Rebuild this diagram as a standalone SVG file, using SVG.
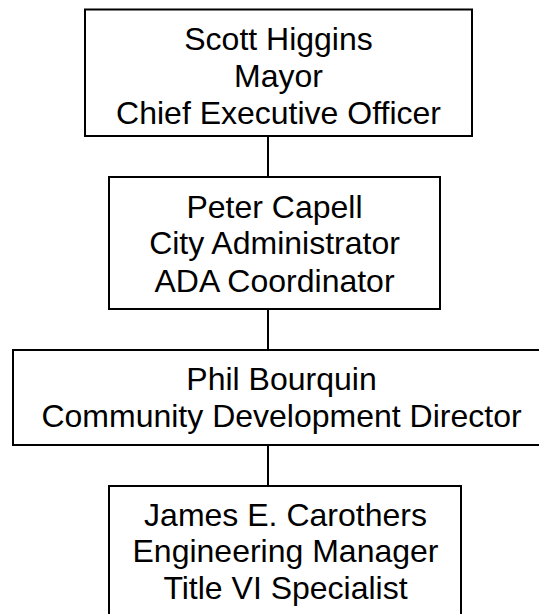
<svg xmlns="http://www.w3.org/2000/svg" width="539" height="614" viewBox="0 0 539 614">
<style>
.box{fill:#fff;stroke:#000;stroke-width:2}
.t{font-family:"Liberation Sans",Arial,sans-serif;font-size:32px;fill:#000;text-anchor:middle}
.c{stroke:#000;stroke-width:2;fill:none}
</style>
<rect width="539" height="614" fill="#fff"/>
<g id="connectors">
<line class="c" x1="268" y1="136" x2="268" y2="177"/>
<line class="c" x1="268" y1="309" x2="268" y2="350"/>
<line class="c" x1="268" y1="445" x2="268" y2="486"/>
</g>
<g id="node-higgins">
<rect class="box" x="85" y="9.5" width="387" height="126.5"/>
<text class="t" x="278.5" y="50">Scott Higgins</text>
<text class="t" x="278.5" y="87">Mayor</text>
<text class="t" x="278.5" y="123.5">Chief Executive Officer</text>
</g>
<g id="node-capell">
<rect class="box" x="109" y="177" width="331" height="132"/>
<text class="t" x="274.5" y="217.5">Peter Capell</text>
<text class="t" x="274.5" y="254">City Administrator</text>
<text class="t" x="274.5" y="291.5">ADA Coordinator</text>
</g>
<g id="node-bourquin">
<rect class="box" x="13" y="350" width="537" height="95"/>
<text class="t" x="281.5" y="390">Phil Bourquin</text>
<text class="t" x="281.5" y="427">Community Development Director</text>
</g>
<g id="node-carothers">
<rect class="box" x="109" y="486" width="352" height="160"/>
<text class="t" x="285.5" y="525.5">James E. Carothers</text>
<text class="t" x="285.5" y="562">Engineering Manager</text>
<text class="t" x="285.5" y="599">Title VI Specialist</text>
</g>
</svg>
